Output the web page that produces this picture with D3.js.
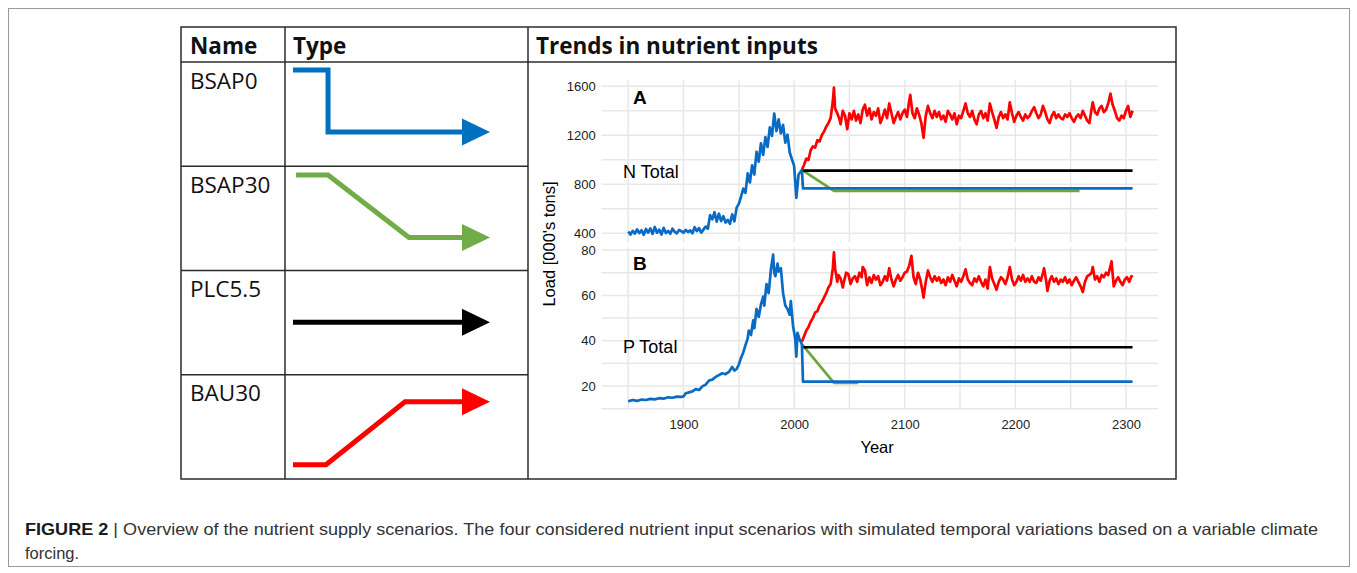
<!DOCTYPE html>
<html>
<head>
<meta charset="utf-8">
<script src="https://cdn.jsdelivr.net/npm/d3@7"></script>
<style>
  body { margin: 0; background: #fff; }
</style>
</head>
<body>
<script>
// ---- table content ----
const scenarioNames = ['BSAP0', 'BSAP30', 'PLC5.5', 'BAU30'];
const scenarioColors = ['#0070c0', '#70ad47', '#000000', '#ff0000'];
// schematic trajectories for the "Type" column: [relative time, relative level]
const typeShapes = [
  [[0, 1], [0.206, 1], [0.206, 0.244], [1, 0.244]],
  [[0.018, 0.99], [0.206, 0.99], [0.682, 0.23], [1, 0.23]],
  [[0, 0.467], [1, 0.467]],
  [[0, 0], [0.194, 0], [0.659, 0.768], [1, 0.768]]
];

// ---- chart data: N total (000's tons) ----
const nHistoric = [[1850,415],[1852,390],[1854,420],[1856,398],[1858,432],[1860,402],[1862,425],[1864,388],[1866,436],[1868,405],
  [1870,440],[1872,395],[1874,452],[1876,405],[1878,430],[1880,390],[1882,445],[1884,402],[1886,420],[1888,396],
  [1890,438],[1892,412],[1894,400],[1896,428],[1898,418],[1900,405],[1902,428],[1904,410],[1906,424],[1908,400],
  [1910,450],[1912,418],[1914,442],[1916,405],[1918,430],[1920,455],[1922,438],[1924,548],[1926,515],[1928,572],
  [1930,495],[1932,560],[1934,500],[1936,540],[1938,488],[1940,510],[1942,478],[1944,555],[1946,498],[1948,610],
  [1950,640],[1952,700],[1954,765],[1956,730],[1958,890],[1960,815],[1962,955],[1964,880],[1966,1065],[1968,985],
  [1970,1135],[1972,1040],[1974,1185],[1976,1105],[1978,1265],[1980,1195],[1982,1378],[1984,1235],[1986,1330],[1988,1215],
  [1990,1285],[1992,1140],[1994,1205],[1996,1060],[1998,1005],[2000,950],[2002,690],[2004,880],[2007,917]];
const nBSAP0 = [[2007,917],[2008,767],[2306,767]];
const nBSAP30 = [[2007,917],[2036,746],[2258,746]];
const nPLC = [[2007,912],[2306,912]];
const nBAU = [[2007,917],[2009,960],[2011,1010],[2013,1000],[2015,1080],[2017,1110],[2019,1100],[2021,1160],[2023,1150],[2025,1200],
  [2027,1230],[2029,1270],[2031,1300],[2033,1340],[2035,1480],[2036,1590],[2037,1420],[2039,1380],[2041,1330],[2042,1290],
  [2044,1400],[2046,1360],[2048,1250],[2050,1380],[2052,1330],[2054,1400],[2056,1320],[2058,1370],[2060,1300],[2062,1410],
  [2064,1450],[2066,1360],[2068,1420],[2070,1330],[2072,1390],[2074,1360],[2076,1420],[2078,1300],[2080,1350],[2082,1410],
  [2084,1340],[2086,1460],[2088,1380],[2090,1300],[2092,1350],[2094,1390],[2096,1330],[2098,1380],[2100,1410],[2102,1350],
  [2104,1480],[2105,1530],[2107,1380],[2109,1340],[2111,1420],[2113,1370],[2115,1300],[2117,1180],[2119,1360],[2121,1440],
  [2123,1380],[2125,1340],[2127,1400],[2129,1350],[2131,1390],[2133,1330],[2135,1360],[2137,1310],[2139,1400],[2141,1370],
  [2143,1330],[2145,1380],[2147,1290],[2149,1360],[2151,1340],[2153,1400],[2155,1460],[2157,1380],[2159,1350],[2161,1400],
  [2163,1330],[2165,1290],[2167,1370],[2169,1400],[2171,1340],[2173,1380],[2175,1320],[2177,1460],[2179,1390],[2181,1330],
  [2183,1260],[2185,1350],[2187,1390],[2189,1340],[2191,1370],[2193,1330],[2195,1470],[2197,1380],[2199,1310],[2201,1360],
  [2203,1390],[2205,1350],[2207,1320],[2209,1370],[2211,1340],[2213,1360],[2215,1400],[2217,1430],[2219,1380],[2221,1340],
  [2223,1370],[2225,1440],[2227,1390],[2229,1330],[2231,1300],[2233,1360],[2235,1390],[2237,1340],[2239,1370],[2241,1340],
  [2243,1330],[2245,1370],[2247,1350],[2249,1380],[2251,1340],[2253,1310],[2255,1350],[2257,1370],[2259,1340],[2261,1400],
  [2263,1360],[2265,1320],[2267,1300],[2269,1420],[2270,1470],[2272,1390],[2274,1370],[2276,1420],[2278,1440],[2280,1390],
  [2282,1410],[2284,1460],[2286,1540],[2288,1450],[2290,1400],[2292,1340],[2294,1320],[2296,1360],[2298,1340],[2300,1400],
  [2302,1440],[2304,1350],[2306,1400]];

// ---- chart data: P total (000's tons) ----
const pHistoric = [[1850,13.2],[1854,13.8],[1858,13.4],[1862,14.0],[1866,13.8],[1870,14.3],[1874,14.1],[1878,14.6],[1882,14.4],[1886,15.0],
  [1890,14.8],[1894,15.3],[1898,15.2],[1900,15.4],[1902,16.8],[1905,17.2],[1908,17.6],[1911,18.6],[1914,18.2],[1917,19.8],
  [1920,20.6],[1923,22.4],[1926,22.8],[1929,24.0],[1932,24.8],[1935,25.6],[1938,25.2],[1941,26.2],[1944,28.4],[1946,26.8],
  [1948,27.5],[1950,29.5],[1952,32.5],[1954,34.8],[1956,38.0],[1958,41.0],[1959,44.5],[1961,42.5],[1963,49.0],[1964,45.5],
  [1966,54.0],[1968,50.5],[1970,56.0],[1972,59.5],[1973,55.5],[1975,65.0],[1977,61.0],[1979,71.5],[1981,78.0],[1982,70.0],
  [1983,68.5],[1985,74.0],[1986,70.5],[1988,72.0],[1990,61.0],[1992,55.5],[1994,54.0],[1996,51.5],[1997,57.5],[1999,46.5],
  [2001,41.0],[2002,33.0],[2003,43.5],[2005,40.5],[2007,38.5]];
const pBSAP0 = [[2007,38.5],[2008,21.9],[2306,21.9]];
const pBSAP30 = [[2007,38.5],[2036,21.4],[2058,21.4]];
const pPLC = [[2007,37.1],[2306,37.1]];
const pBAU = [[2007,39.5],[2009,42],[2011,44.5],[2013,46],[2015,48.5],[2017,50],[2019,52.5],[2021,53],[2023,55.5],[2025,57],
  [2027,59],[2029,61],[2031,63.5],[2033,65],[2035,72],[2036,79],[2037,72],[2039,66],[2040,69],[2042,67.5],
  [2044,63.5],[2045,66],[2047,70],[2049,69.5],[2051,65],[2053,67.5],[2055,68.5],[2057,66],[2059,70],[2061,68],
  [2062,72.5],[2064,71],[2066,64.5],[2068,68],[2070,65.5],[2072,69],[2074,67],[2076,68.5],[2078,64.5],[2080,66],
  [2082,68.5],[2084,66.5],[2086,72],[2088,67],[2090,64],[2092,67],[2094,69],[2096,66.5],[2098,68],[2100,70],
  [2102,70.5],[2104,73],[2106,77.5],[2108,68],[2110,65],[2112,70],[2114,67],[2116,62],[2117,59],[2119,66],
  [2121,71],[2123,68],[2125,66],[2127,68.5],[2129,66.5],[2131,68],[2133,65.5],[2135,67],[2137,64.5],[2139,68],
  [2141,66],[2143,69],[2145,66.5],[2147,64],[2149,67.5],[2151,66],[2153,68.5],[2155,71.5],[2157,67],[2159,65.5],
  [2161,64.5],[2163,67.5],[2165,66],[2167,68.5],[2169,66],[2171,64],[2173,67],[2175,63],[2177,72.5],[2179,67.5],
  [2181,65],[2183,62.5],[2185,66],[2187,68],[2189,67],[2191,65],[2193,68],[2195,72.5],[2197,67],[2199,64.5],
  [2201,66],[2203,68.5],[2205,66.5],[2207,69],[2209,66],[2211,67.5],[2213,66],[2215,68.5],[2217,66],[2219,65.5],
  [2221,68],[2223,66.5],[2225,70],[2226,72],[2228,66],[2229,62],[2231,66.5],[2233,68.5],[2235,66],[2237,67.5],
  [2239,65],[2241,67],[2243,66],[2245,68],[2247,65.5],[2249,67],[2251,64.5],[2253,66.5],[2255,68],[2257,66],
  [2259,64],[2261,61.5],[2263,66],[2265,68.5],[2267,69],[2269,70],[2270,72.5],[2272,67],[2274,68.5],[2276,66],
  [2278,69],[2280,68],[2282,70],[2284,69],[2286,73],[2287,75],[2289,64],[2291,66.5],[2293,68],[2295,66],
  [2297,64.5],[2299,67],[2301,68],[2303,66],[2305,68.5],[2306,68]];

// ---- axis ticks ----
const yearTicks = [1900, 2000, 2100, 2200, 2300];
const yearGrid = [1850, 1900, 1950, 2000, 2050, 2100, 2150, 2200, 2250, 2300];
const nTicks = [400, 800, 1200, 1600];
const nGrid = [400, 600, 800, 1000, 1200, 1400, 1600];
const pTicks = [20, 40, 60, 80];
const pGrid = [10, 20, 30, 40, 50, 60, 70, 80];

const chartFont = '"Liberation Sans", Arial, sans-serif';
const tableFont = '"Open Sans", "Noto Sans", sans-serif';
const lineBlue = '#0a6bc4', lineGreen = '#6aa83c', lineRed = '#ff0000';

let svg = d3.select('body').append('svg')
    .attr('width', 1357)
    .attr('height', 573)
    .style('display', 'block');

svg.append('rect').attr('width', 1357).attr('height', 573).attr('fill', '#fff');
// outer figure frame
svg.append('rect')
    .attr('x', 8.5).attr('y', 8.5)
    .attr('width', 1341).attr('height', 558)
    .attr('fill', 'none')
    .attr('stroke', '#9a9a9a')
    .attr('stroke-width', 1);

// ---- table ----
let tbl = {left: 181, top: 27, right: 1176, bottom: 479, col1: 285, col2: 528, head: 62};
let rowH = (tbl.bottom - tbl.head) / scenarioNames.length;
let table = svg.append('g').attr('class', 'table');
let lineColor = '#2b2b2b';
table.append('rect')
    .attr('x', tbl.left).attr('y', tbl.top)
    .attr('width', tbl.right - tbl.left).attr('height', tbl.bottom - tbl.top)
    .attr('fill', 'none').attr('stroke', lineColor).attr('stroke-width', 1.5);
[tbl.col1, tbl.col2].forEach(function (x) {
    table.append('line').attr('x1', x).attr('x2', x).attr('y1', tbl.top).attr('y2', tbl.bottom)
        .attr('stroke', lineColor).attr('stroke-width', 1.5);
});
table.append('line').attr('x1', tbl.left).attr('x2', tbl.right).attr('y1', tbl.head).attr('y2', tbl.head)
    .attr('stroke', lineColor).attr('stroke-width', 1.5);
d3.range(1, scenarioNames.length).forEach(function (i) {
    table.append('line').attr('x1', tbl.left).attr('x2', tbl.col2)
        .attr('y1', tbl.head + i * rowH).attr('y2', tbl.head + i * rowH)
        .attr('stroke', lineColor).attr('stroke-width', 1.5);
});
let headers = [['Name', tbl.left + 9], ['Type', tbl.col1 + 8], ['Trends in nutrient inputs', tbl.col2 + 8]];
table.selectAll('text.head')
    .data(headers)
    .enter()
    .append('text')
    .attr('class', 'head')
    .attr('x', d => d[1])
    .attr('y', 54)
    .attr('font-family', tableFont)
    .attr('font-weight', 'bold')
    .attr('font-size', 22.5)
    .attr('fill', '#111')
    .text(d => d[0]);
table.selectAll('text.name')
    .data(scenarioNames)
    .enter()
    .append('text')
    .attr('class', 'name')
    .attr('x', tbl.left + 9)
    .attr('y', (d, i) => tbl.head + i * rowH + 26.5)
    .attr('font-family', tableFont)
    .attr('font-size', 22.5)
    .attr('fill', '#111')
    .text(d => d);

// schematic arrows
let tx = d3.scaleLinear().domain([0, 1]).range([293, 463]);
typeShapes.forEach(function (shape, i) {
    let top = tbl.head + i * rowH;
    let ty = d3.scaleLinear().domain([0, 1]).range([top + 90, top + 8]);
    let line = d3.line().x(d => tx(d[0])).y(d => ty(d[1]));
    table.append('path')
        .attr('d', line(shape))
        .attr('fill', 'none')
        .attr('stroke', scenarioColors[i])
        .attr('stroke-width', 5);
    let end = shape[shape.length - 1];
    let ex = tx(end[0]), ey = ty(end[1]);
    table.append('path')
        .attr('d', `M${ex - 1},${ey - 13.5}L${ex + 27},${ey}L${ex - 1},${ey + 13.5}Z`)
        .attr('fill', scenarioColors[i]);
});

// ---- trends chart ----
let x = d3.scaleLinear().domain([1826, 2329]).range([601.7, 1158]);
let panels = [
    {key: 'A', label: 'N Total', y: d3.scaleLinear().domain([325, 1650]).range([242.5, 80.2]),
     ticks: nTicks, grid: nGrid, hist: nHistoric, bsap0: nBSAP0, bsap30: nBSAP30, plc: nPLC, bau: nBAU, labelValue: 852},
    {key: 'B', label: 'P Total', y: d3.scaleLinear().domain([9.75, 81.5]).range([409.2, 246.7]),
     ticks: pTicks, grid: pGrid, hist: pHistoric, bsap0: pBSAP0, bsap30: pBSAP30, plc: pPLC, bau: pBAU, labelValue: 34.7}
];

let chart = svg.append('g').attr('class', 'chart');
panels.forEach(function (p) {
    let g = chart.append('g');
    let [y0, y1] = p.y.range();
    // grid
    g.selectAll('line.vgrid')
        .data(yearGrid)
        .enter()
        .append('line')
        .attr('x1', d => x(d)).attr('x2', d => x(d))
        .attr('y1', y0).attr('y2', y1)
        .attr('stroke', '#e8e8e8').attr('stroke-width', 1.5);
    g.selectAll('line.hgrid')
        .data(p.grid)
        .enter()
        .append('line')
        .attr('x1', x.range()[0]).attr('x2', x.range()[1])
        .attr('y1', d => p.y(d)).attr('y2', d => p.y(d))
        .attr('stroke', '#e8e8e8').attr('stroke-width', 1.5);

    // y axis
    let ax = g.append('g')
        .attr('transform', `translate(${x.range()[0]},0)`)
        .call(d3.axisLeft(p.y).tickValues(p.ticks).tickFormat(d3.format('d')).tickSize(0).tickPadding(6));
    ax.select('.domain').remove();
    ax.selectAll('text')
        .attr('font-family', chartFont)
        .attr('font-size', 13)
        .attr('fill', '#222');

    let line = d3.line().x(d => x(d[0])).y(d => p.y(d[1]));
    let series = [
        [p.bsap30, lineGreen],
        [p.plc, '#000'],
        [p.bsap0, lineBlue],
        [p.bau, lineRed],
        [p.hist, lineBlue]
    ];
    g.selectAll('path.series')
        .data(series)
        .enter()
        .append('path')
        .attr('class', 'series')
        .attr('d', d => line(d[0]))
        .attr('fill', 'none')
        .attr('stroke', d => d[1])
        .attr('stroke-width', 2.7)
        .attr('stroke-linejoin', 'round');

    g.append('text')
        .attr('x', 633)
        .attr('y', y1 + (p.key === 'A' ? 24 : 23))
        .attr('font-family', chartFont)
        .attr('font-weight', 'bold')
        .attr('font-size', 19)
        .text(p.key);
    g.append('text')
        .attr('x', 623)
        .attr('y', p.y(p.labelValue))
        .attr('font-family', chartFont)
        .attr('font-size', 18)
        .text(p.label);
});

// x axis
let xa = chart.append('g')
    .attr('transform', 'translate(0,409.2)')
    .call(d3.axisBottom(x).tickValues(yearTicks).tickFormat(d3.format('d')).tickSize(0).tickPadding(10.5));
xa.select('.domain').remove();
xa.selectAll('text')
    .attr('font-family', chartFont)
    .attr('font-size', 13)
    .attr('fill', '#222');

chart.append('text')
    .attr('x', x(2075))
    .attr('y', 452.5)
    .attr('text-anchor', 'middle')
    .attr('font-family', chartFont)
    .attr('font-size', 16.5)
    .text('Year');
chart.append('text')
    .attr('transform', 'translate(555,244) rotate(-90)')
    .attr('text-anchor', 'middle')
    .attr('font-family', chartFont)
    .attr('font-size', 16.5)
    .text("Load [000's tons]");

// ---- caption ----
let cap = svg.append('text')
    .attr('x', 25)
    .attr('y', 535)
    .attr('font-family', chartFont)
    .attr('font-size', 16.5)
    .attr('fill', '#333')
    .attr('textLength', 1293)
    .attr('lengthAdjust', 'spacingAndGlyphs');
cap.append('tspan').attr('font-weight', 'bold').attr('fill', '#1a1a1a').text('FIGURE 2');
cap.append('tspan').text(' | ');
cap.append('tspan').text('Overview of the nutrient supply scenarios. The four considered nutrient input scenarios with simulated temporal variations based on a variable climate');
svg.append('text')
    .attr('x', 25)
    .attr('y', 559)
    .attr('font-family', chartFont)
    .attr('font-size', 16.5)
    .attr('fill', '#333')
    .text('forcing.');
</script>
</body>
</html>
